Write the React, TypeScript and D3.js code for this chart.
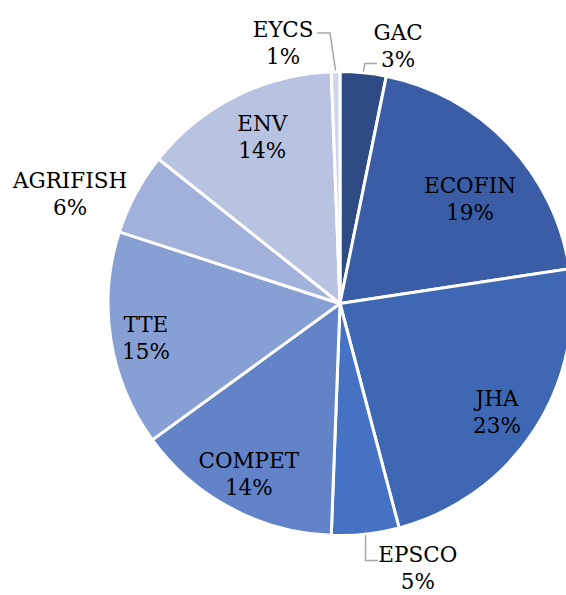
import React from "react";
import * as d3 from "d3";

const categories = ["GAC", "ECOFIN", "JHA", "EPSCO", "COMPET", "TTE", "AGRIFISH", "ENV", "EYCS"];
const shares = [3.2, 19.4, 23.3, 4.7, 14.4, 15.0, 5.7, 13.7, 0.6];
const colors = ["#2F4B85", "#3A5DA6", "#3E68B3", "#4572C3", "#6383C8", "#889FD4", "#A2B1DC", "#B8C3E2", "#D0D7EC"];

const W = 566;
const H = 595;
const CX = 340;
const CY = 303.5;
const R = 232;

// label placement (polar: degrees clockwise from 12 o'clock, radius from centre)
const LABEL_LAYOUT: Record<string, { a: number; r: number; leader?: [number, number][] }> = {
  GAC: { a: 12.7, r: 264, leader: [[365, 63.5], [377, 63.5]] },
  ECOFIN: { a: 51.1, r: 167 },
  JHA: { a: 124.5, r: 190.5 },
  EPSCO: { a: 163.6, r: 275.5, leader: [[365.5, 560.5], [378, 560.5]] },
  COMPET: { a: 208.2, r: 193 },
  TTE: { a: 260.1, r: 197 },
  AGRIFISH: { a: 292.2, r: 291.5 },
  ENV: { a: 335, r: 184 },
  EYCS: { a: 347.7, r: 267, leader: [[330, 33], [317, 33]] },
};

const FONT = "'DejaVu Serif', 'Liberation Serif', serif";

export default function App() {
  const data = categories.map((c, i) => ({ name: c, value: shares[i], color: colors[i] }));
  const total = d3.sum(data, (d) => d.value);
  const pct = d3.format(".0%");
  const pie = d3
    .pie<{ name: string; value: number; color: string }>()
    .sort(null)
    .value((d) => d.value)
    .startAngle(0)
    .endAngle(2 * Math.PI);
  const arcs = pie(data);
  const arc = d3
    .arc<d3.PieArcDatum<{ name: string; value: number; color: string }>>()
    .innerRadius(0)
    .outerRadius(R);

  const polar = (deg: number, r: number): [number, number] => {
    const t = (deg * Math.PI) / 180;
    return [CX + r * Math.sin(t), CY - r * Math.cos(t)];
  };

  return (
    <svg
      width={W}
      height={H}
      viewBox={`0 0 ${W} ${H}`}
      style={{ position: "absolute", left: 0, top: 0, display: "block", background: "#fff" }}
    >
      <g transform={`translate(${CX},${CY})`}>
        {arcs.map((a) => (
          <path
            key={a.data.name}
            d={arc(a) || ""}
            fill={a.data.color}
            stroke="#fff"
            strokeWidth={3}
            strokeLinejoin="round"
          />
        ))}
      </g>
      {arcs.map((a) => {
        const lay = LABEL_LAYOUT[a.data.name];
        if (!lay || !lay.leader) return null;
        const mid = (((a.startAngle + a.endAngle) / 2) * 180) / Math.PI;
        const start = polar(mid, R + 1);
        const pts = [start, ...lay.leader];
        return (
          <polyline
            key={"l" + a.data.name}
            points={pts.map((p) => p.join(",")).join(" ")}
            fill="none"
            stroke="#A6A6A6"
            strokeWidth={1.5}
          />
        );
      })}
      {arcs.map((a) => {
        const lay = LABEL_LAYOUT[a.data.name];
        const [x, y] = polar(lay.a, lay.r);
        return (
          <text
            key={"t" + a.data.name}
            x={x}
            y={y}
            textAnchor="middle"
            fontFamily={FONT}
            fontSize={21.5}
            fill="#000"
          >
            <tspan x={x} dy={-5.5}>
              {a.data.name}
            </tspan>
            <tspan x={x} dy={27}>
              {pct(a.data.value / total)}
            </tspan>
          </text>
        );
      })}
    </svg>
  );
}
